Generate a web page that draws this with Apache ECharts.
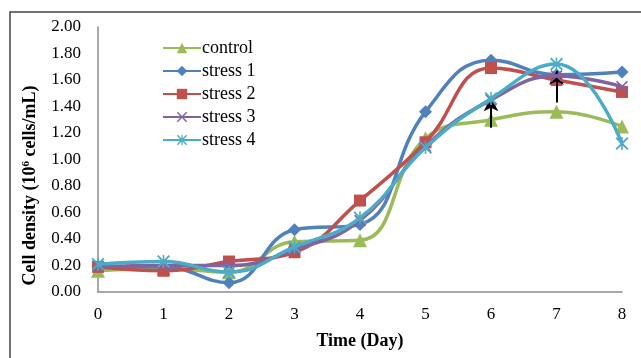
<!DOCTYPE html>
<html><head><meta charset="utf-8">
<script src="https://cdn.jsdelivr.net/npm/echarts@6/dist/echarts.min.js"></script>
<style>html,body{margin:0;padding:0;background:#fff;}#c{width:641px;height:358px;}</style>
</head><body><div id="c"></div>
<script>
const days = [0,1,2,3,4,5,6,7,8];
const seriesNames = ['control','stress 1','stress 2','stress 3','stress 4'];
const control = [0.16,0.18,0.15,0.38,0.39,1.16,1.30,1.36,1.25];
const stress1 = [0.19,0.19,0.07,0.47,0.51,1.36,1.75,1.64,1.66];
const stress2 = [0.19,0.16,0.23,0.30,0.69,1.13,1.69,1.60,1.51];
const stress3 = [0.19,0.20,0.20,0.32,0.54,1.10,1.45,1.63,1.55];
const stress4 = [0.21,0.23,0.15,0.34,0.56,1.09,1.46,1.72,1.12];
const yTicks = [0,0.2,0.4,0.6,0.8,1.0,1.2,1.4,1.6,1.8,2.0];
// arrow annotations: [day, from, to]
const arrows = [[6,1.24,1.47],[7,1.43,1.67]];

const colors = ['#9BBB59','#4F81BD','#C0504D','#8064A2','#4BACC6'];
const symbols = ['triangle','diamond','rect',
  'path://M0,1L1,0L5,4L9,0L10,1L6,5L10,9L9,10L5,6L1,10L0,9L4,5Z',
  'path://M0,1L1,0L5,4L9,0L10,1L6,5L10,9L9,10L5,6L1,10L0,9L4,5ZM4.4,0L5.6,0L5.6,10L4.4,10Z'];
const sizes = [14,13,12,12,13];
const allData = [control,stress1,stress2,stress3,stress4];

const series = allData.map((vals,i)=>({
  name: seriesNames[i], type:'line', smooth:0.45,
  data: days.map((d,j)=>[d,vals[j]]),
  symbol: symbols[i], symbolSize: sizes[i],
  lineStyle:{color:colors[i], width:3.5},
  itemStyle:{color:colors[i]},
  z: 2+i
}));
series.push({
  type:'line', data:[], z:20, silent:true,
  markLine:{
    silent:true, symbol:['none','arrow'], symbolSize:[11,14],
    label:{show:false},
    lineStyle:{color:'#000', width:2, type:'solid'},
    data: arrows.map(a=>[{coord:[a[0],a[1]]},{coord:[a[0],a[2]]}])
  }
});

const chart = echarts.init(document.getElementById('c'));
chart.setOption({
  animation:false,
  textStyle:{fontFamily:'Liberation Serif'},
  graphic:[{type:'rect', shape:{x:10,y:12,width:700,height:400}, style:{fill:'none', stroke:'#444', lineWidth:1.5}, silent:true}],
  grid:{left:98, right:19, top:27, bottom:66},
  legend:{
    orient:'vertical', left:157, top:34, itemWidth:38, itemHeight:13, itemGap:5,
    textStyle:{fontFamily:'Liberation Serif', fontSize:18, color:'#000', padding:[0,0,0,-4]},
    data: seriesNames
  },
  xAxis:{
    type:'value', min:0, max:8, interval:1,
    name:'Time (Day)', nameLocation:'middle', nameGap:40,
    nameTextStyle:{fontFamily:'Liberation Serif', fontWeight:'bold', fontSize:18, color:'#000'},
    axisLine:{lineStyle:{color:'#8c8c8c', width:1.5}},
    axisTick:{show:false}, splitLine:{show:false},
    axisLabel:{fontFamily:'Liberation Serif', fontSize:17, color:'#000', margin:14}
  },
  yAxis:{
    type:'value', min:yTicks[0], max:yTicks[yTicks.length-1], interval:0.2,
    name:'Cell density (10{sup|6} cells/mL)', nameLocation:'middle', nameGap:58, nameRotate:90,
    nameTextStyle:{fontFamily:'Liberation Serif', fontWeight:'bold', fontSize:18, color:'#000', padding:[0,52,0,0],
      rich:{sup:{fontFamily:'Liberation Serif', fontWeight:'bold', fontSize:11, color:'#000', verticalAlign:'top', padding:[0,0,8,0]}}},
    axisLine:{show:true, lineStyle:{color:'#8c8c8c', width:1.5}},
    axisTick:{show:false}, splitLine:{show:false},
    axisLabel:{fontFamily:'Liberation Serif', fontSize:17, color:'#000', margin:17, formatter:v=>v.toFixed(2)}
  },
  series: series
});
</script></body></html>
